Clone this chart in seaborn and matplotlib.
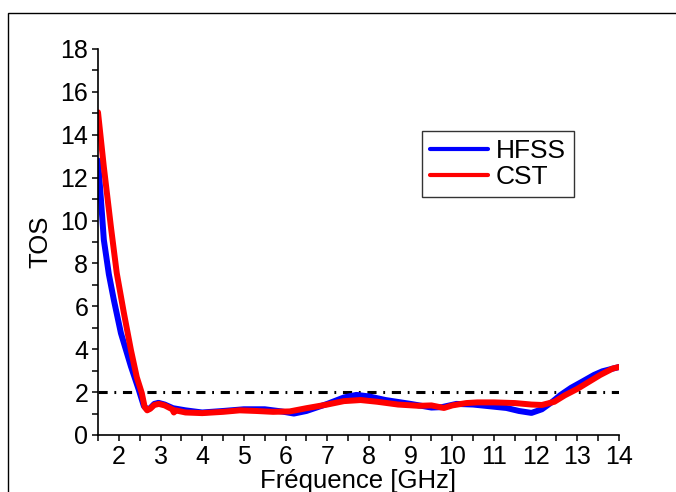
import matplotlib
matplotlib.use("Agg")
import matplotlib.pyplot as plt
import seaborn as sns
import pandas as pd
from matplotlib.ticker import MultipleLocator
from matplotlib.patches import Rectangle

# ---- data ----
freq_hfss = [1.5, 1.57, 1.64, 1.76, 1.88, 2.05, 2.29, 2.48, 2.6, 2.68, 2.75, 2.85, 2.95,
             3.1, 3.3, 3.6, 4.0, 4.5, 5.0, 5.5, 5.9, 6.2, 6.5, 7.0, 7.4, 7.7, 8.0, 8.4,
             9.0, 9.5, 9.75, 10.1, 10.5, 10.85, 11.3, 11.6, 11.9, 12.15, 12.4, 12.6,
             12.85, 13.1, 13.4, 13.6, 13.9, 14.0]
tos_hfss = [12.8, 11.0, 9.1, 7.5, 6.3, 4.75, 3.2, 2.1, 1.35, 1.2, 1.25, 1.45, 1.5,
            1.42, 1.25, 1.15, 1.05, 1.12, 1.2, 1.2, 1.1, 1.0, 1.12, 1.45, 1.75, 1.87,
            1.8, 1.63, 1.45, 1.28, 1.3, 1.45, 1.42, 1.35, 1.26, 1.12, 1.03, 1.2, 1.55,
            1.87, 2.2, 2.47, 2.8, 2.97, 3.12, 3.17]

freq_cst = [1.5, 1.64, 1.81, 1.95, 2.12, 2.29, 2.43, 2.55, 2.62, 2.68, 2.75, 2.85, 2.96,
            3.1, 3.28, 3.32, 3.36, 3.6, 4.0, 4.5, 4.9, 5.3, 5.7, 6.1, 6.5, 7.0, 7.4,
            7.8, 8.2, 8.7, 9.2, 9.5, 9.8, 10.0, 10.34, 10.6, 11.0, 11.5, 11.9, 12.15,
            12.45, 12.7, 13.0, 13.27, 13.55, 13.85, 14.0]
tos_cst = [15.05, 12.5, 9.7, 7.55, 5.7, 3.96, 2.7, 1.96, 1.3, 1.15, 1.22, 1.4, 1.45,
           1.38, 1.2, 1.05, 1.15, 1.05, 1.02, 1.08, 1.15, 1.12, 1.08, 1.1, 1.25, 1.42,
           1.58, 1.63, 1.55, 1.42, 1.36, 1.38, 1.26, 1.38, 1.49, 1.52, 1.52, 1.49,
           1.42, 1.4, 1.55, 1.85, 2.15, 2.47, 2.8, 3.1, 3.17]

threshold = 2.0
series_names = ["HFSS", "CST"]
x_ticks = list(range(2, 15))
y_ticks = list(range(0, 19, 2))

df = pd.concat([
    pd.DataFrame({"freq": freq_hfss, "tos": tos_hfss, "sim": series_names[0]}),
    pd.DataFrame({"freq": freq_cst, "tos": tos_cst, "sim": series_names[1]}),
], ignore_index=True)

sns.set_style("ticks")
plt.rcParams["font.family"] = ["Liberation Sans", "DejaVu Sans"]
plt.rcParams["text.color"] = "black"
plt.rcParams["axes.labelcolor"] = "black"

fig = plt.figure(figsize=(6.76, 4.92), dpi=100)
ax = fig.add_axes([98/676, 1 - 435/492, (619 - 98)/676, (435 - 49)/492])

# figure border
fig.patches.append(Rectangle((8/676, -0.2), 1.2, 0.2 + 1 - 13/492,
                             transform=fig.transFigure, fill=False,
                             edgecolor="black", linewidth=1.0))

sns.lineplot(data=df, x="freq", y="tos", hue="sim", hue_order=series_names,
             palette={"HFSS": "#0000ff", "CST": "#ff0000"}, sort=False,
             estimator=None, linewidth=4.3, ax=ax)

ax.axhline(threshold, color="black", linewidth=2.2,
           linestyle=(0, (3.0, 2.2, 0.6, 2.2)), zorder=1)

ax.set_xlim(1.5, 14)
ax.set_ylim(0, 18)
ax.set_xticks(x_ticks)
ax.set_yticks(y_ticks)
ax.xaxis.set_minor_locator(MultipleLocator(0.5))
ax.yaxis.set_minor_locator(MultipleLocator(1))
ax.tick_params(which="both", direction="out", length=4, width=1.1, color="black",
               labelsize=18, labelcolor="black", pad=3)
for side in ["top", "right"]:
    ax.spines[side].set_visible(False)
for side in ["left", "bottom"]:
    ax.spines[side].set_linewidth(1.2)
    ax.spines[side].set_color("black")

ax.set_xlabel("Fréquence [GHz]", fontsize=18.5, labelpad=0)
ax.set_ylabel("TOS", fontsize=18.5, labelpad=6)

leg = ax.legend(loc="upper left", bbox_to_anchor=(0.622, 0.788), borderaxespad=0,
                fontsize=19, frameon=True, fancybox=False, edgecolor="black",
                handlelength=2.2, handletextpad=0.3, borderpad=0.3,
                labelspacing=0.1)
leg.get_frame().set_linewidth(1.0)
for line in leg.get_lines():
    line.set_linewidth(3.0)

fig.savefig("out.png", dpi=100)
